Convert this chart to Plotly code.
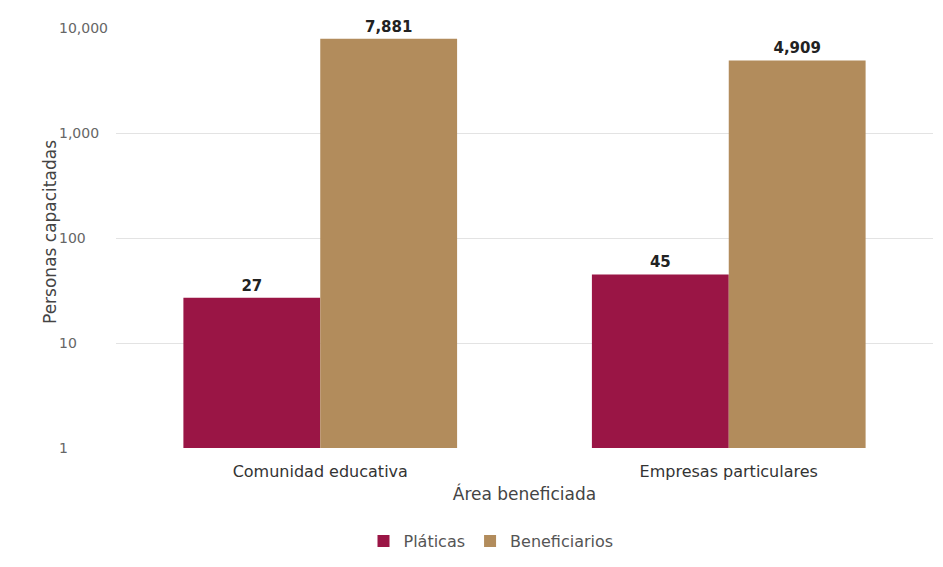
import numpy as np
import plotly.graph_objects as go

categories = ["Comunidad educativa", "Empresas particulares"]
platicas = [27, 45]
beneficiarios = [7881, 4909]
series_names = ["Pláticas", "Beneficiarios"]
tick_vals = [1, 10, 100, 1000, 10000]
tick_text = ["1", "10", "100", "1,000", "10,000"]

C_PLAT = "#9A1545"
C_BEN = "#B28C5C"
FONT = "DejaVu Sans"

fig = go.Figure()
for name, vals, col in [(series_names[0], platicas, C_PLAT), (series_names[1], beneficiarios, C_BEN)]:
    fig.add_trace(go.Bar(
        x=categories, y=vals, name=name, marker=dict(color=col, line=dict(width=0)),
        text=[f"{v:,}" for v in vals], textposition="outside",
        textfont=dict(family=FONT, size=15, color="#222222", weight="bold"),
        cliponaxis=False,
    ))

OFF = 8  # page body margin
W, H = 943 - OFF, 567 - OFF
L, R, T, B = 116 - OFF, 10, 28 - OFF, 119
pw = W - L - R
ph = H - T - B


def px_x(x):
    return (x - OFF - L) / pw


def px_y(y):
    return (H - B - (y - OFF)) / ph


annotations = []
for v, t in zip(tick_vals, tick_text):
    annotations.append(dict(x=px_x(57), xref="paper", y=np.log10(v), yref="y",
                            text=t, showarrow=False, xanchor="left", yanchor="middle",
                            font=dict(family=FONT, size=14, color="#666666")))
annotations.append(dict(x=px_x(38), xref="paper", y=px_y(232), yref="paper",
                        text="Personas capacitadas", textangle=-90, showarrow=False,
                        font=dict(family=FONT, size=17, color="#444444")))

shapes = [
    dict(type="line", xref="paper", yref="paper", x0=px_x(5.5), x1=px_x(5.5),
         y0=px_y(7.5), y1=px_y(567), line=dict(color="#E6E6E6", width=1)),
    dict(type="line", xref="paper", yref="paper", x0=px_x(5.5), x1=px_x(943),
         y0=px_y(7.5), y1=px_y(7.5), line=dict(color="#EBEBEB", width=1)),
]

fig.update_layout(
    width=W, height=H,
    margin=dict(l=L, r=R, t=T, b=B, autoexpand=False),
    paper_bgcolor="white", plot_bgcolor="white",
    barmode="group", bargap=0.33, bargroupgap=0,
    font=dict(family=FONT, color="#444444"),
    xaxis=dict(title=dict(text="Área beneficiada", font=dict(family=FONT, size=17, color="#444444"), standoff=8),
               tickfont=dict(family=FONT, size=16, color="#333333"), showline=False, ticks="",
               ticklabelstandoff=12),
    yaxis=dict(type="log", range=[0, 4], tickvals=tick_vals, showticklabels=False,
               showgrid=True, gridcolor="#E3E3E3", gridwidth=1, zeroline=False, showline=False),
    legend=dict(orientation="h", x=px_x(491), xanchor="center", y=px_y(541), yanchor="middle",
                font=dict(family=FONT, size=16, color="#555555"), itemwidth=30, traceorder="normal"),
    annotations=annotations, shapes=shapes,
)

fig.write_html("out.html")
